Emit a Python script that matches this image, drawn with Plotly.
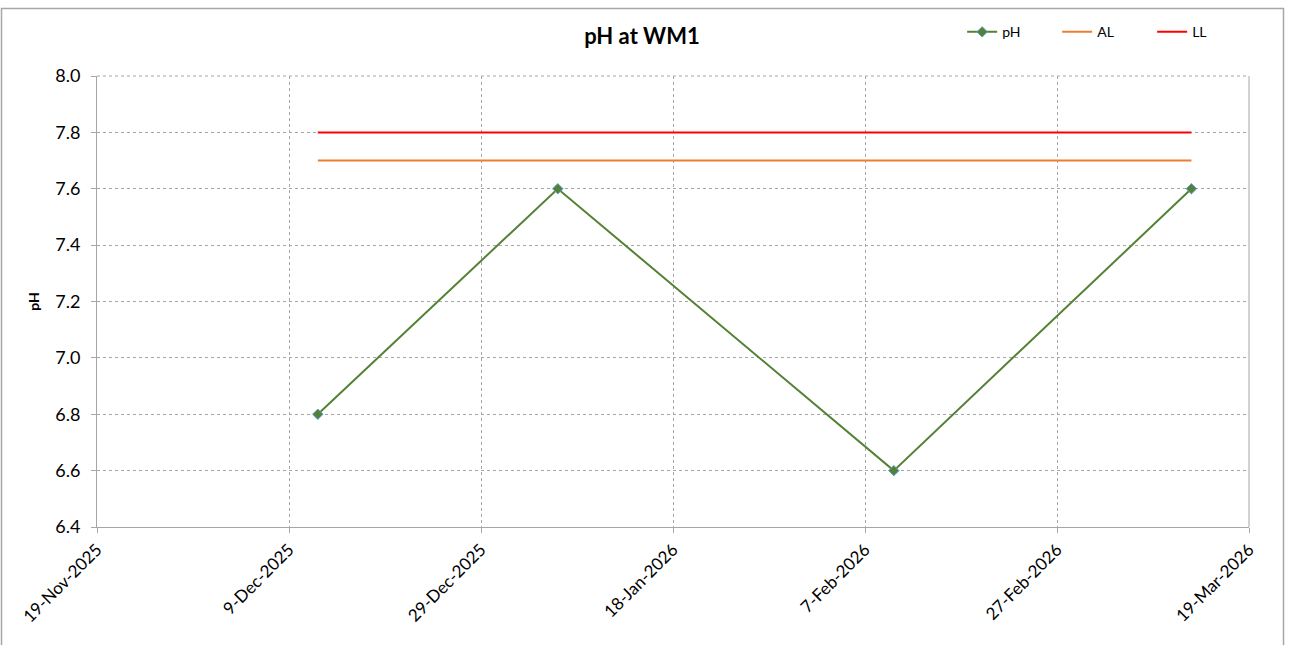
import plotly.graph_objects as go

dates = ["2025-12-12", "2026-01-06", "2026-02-10", "2026-03-13"]
ph_values = [6.8, 7.6, 6.6, 7.6]
al_values = [7.7, 7.7, 7.7, 7.7]
ll_values = [7.8, 7.8, 7.8, 7.8]
x_ticks = ["2025-11-19", "2025-12-09", "2025-12-29", "2026-01-18", "2026-02-07", "2026-02-27", "2026-03-19"]
x_tick_labels = ["19-Nov-2025", "9-Dec-2025", "29-Dec-2025", "18-Jan-2026", "7-Feb-2026", "27-Feb-2026", "19-Mar-2026"]

font_family = "Lato, Open Sans, sans-serif"

fig = go.Figure()
fig.add_trace(go.Scatter(
    x=dates, y=ph_values, name="pH", mode="lines+markers",
    line=dict(color="#548235", width=2),
    marker=dict(symbol="diamond", size=8, color="#548235", line=dict(color="#5b9bd5", width=1)),
))
fig.add_trace(go.Scatter(
    x=dates, y=al_values, name="AL", mode="lines",
    line=dict(color="#ED7D31", width=2),
))
fig.add_trace(go.Scatter(
    x=dates, y=ll_values, name="LL", mode="lines",
    line=dict(color="#FF0000", width=2),
))

fig.update_layout(
    width=1289, height=645,
    paper_bgcolor="white", plot_bgcolor="white",
    margin=dict(l=97, r=40, t=76, b=118),
    font=dict(family=font_family, size=16, color="black"),
    title=dict(text="<b>pH at WM1</b>", x=0.498, xref="container", y=0.943, yanchor="middle",
               xanchor="center", font=dict(size=22, family=font_family, color="black")),
    showlegend=True,
    legend=dict(orientation="h", x=0.751, xanchor="left", y=0.95, yref="container", yanchor="middle",
                font=dict(size=14, family=font_family), bgcolor="rgba(0,0,0,0)",
                entrywidth=50, entrywidthmode="pixels", tracegroupgap=0),
    shapes=[dict(type="rect", xref="paper", yref="paper",
                 x0=(1.5 - 97) / 1152, x1=(1283.5 - 97) / 1152,
                 y0=(527 - 660) / 451, y1=(527 - 8.5) / 451,
                 line=dict(color="#a6a6a6", width=1.5), fillcolor="rgba(0,0,0,0)", layer="below")],
)

fig.update_xaxes(
    type="date", range=["2025-11-19", "2026-03-19"],
    tickmode="array", tickvals=x_ticks, ticktext=x_tick_labels,
    tickangle=-45, ticks="outside", ticklen=5, tickcolor="#a6a6a6",
    showline=True, linecolor="#a6a6a6", linewidth=1, mirror=False,
    showgrid=True, gridcolor="#a6a6a6", griddash="dot", gridwidth=1,
    tickfont=dict(size=17, family=font_family), zeroline=False,
)
fig.update_yaxes(
    range=[6.4, 8.0], dtick=0.2, tickformat=".1f",
    ticks="outside", ticklen=5, tickcolor="#a6a6a6", ticklabelstandoff=7,
    showline=True, linecolor="#a6a6a6", linewidth=1,
    showgrid=True, gridcolor="#a6a6a6", griddash="dot", gridwidth=1,
    tickfont=dict(size=18, family=font_family), zeroline=False,
    title=dict(text="<b>pH</b>", font=dict(size=14, family=font_family), standoff=12),
)
fig.add_shape(type="line", xref="paper", yref="paper", x0=1, x1=1, y0=0, y1=1,
              line=dict(color="#a6a6a6", width=1))
fig.add_shape(type="line", xref="paper", yref="paper", x0=0, x1=1, y0=1, y1=1,
              line=dict(color="#a6a6a6", width=1, dash="dot"))

fig.write_html("out.html", config={"displayModeBar": False},
               post_script="document.body.style.margin='0px';")
